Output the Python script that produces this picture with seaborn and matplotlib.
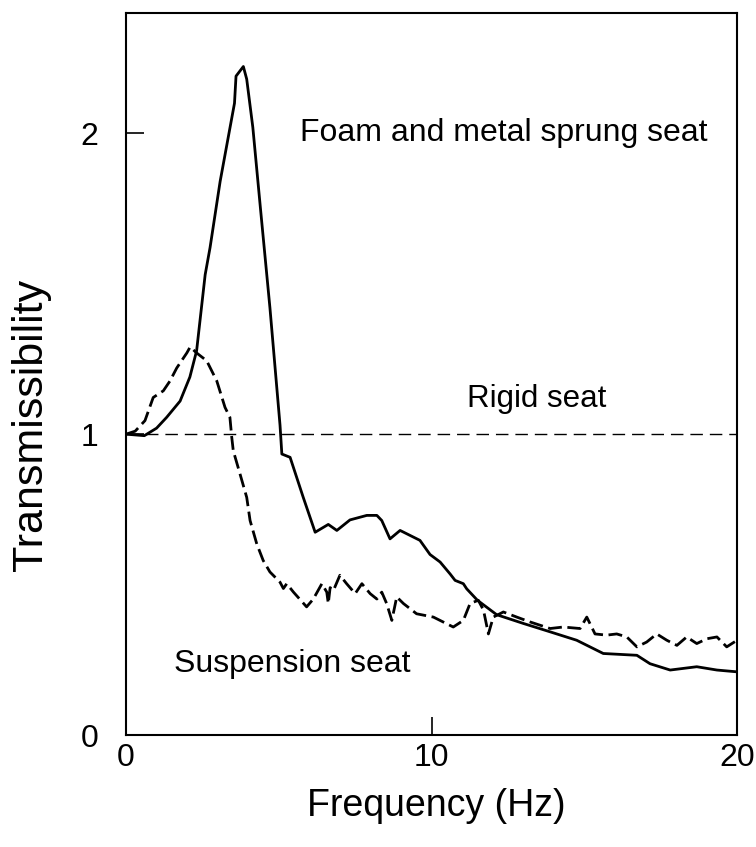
import numpy as np
import pandas as pd
import matplotlib
matplotlib.use("Agg")
import matplotlib.pyplot as plt
import seaborn as sns

# data
foam_freq = [0, 0.6, 1.0, 1.33, 1.77, 2.09, 2.31, 2.59, 2.75, 3.08, 3.55, 3.60, 3.84,
             3.95, 4.15, 4.40, 4.71, 5.04, 5.10, 5.37, 5.80, 6.19, 6.62, 6.90, 7.33,
             7.88, 8.21, 8.37, 8.64, 8.97, 9.62, 9.95, 10.28, 10.61, 10.77, 11.04,
             11.15, 11.5, 12.13, 13.0, 13.88, 14.75, 15.62, 16.72, 17.15, 17.81,
             18.68, 19.34, 20.0]
foam_trans = [1.0, 0.995, 1.02, 1.056, 1.11, 1.19, 1.277, 1.53, 1.62, 1.84, 2.10, 2.19,
              2.222, 2.18, 2.02, 1.75, 1.42, 1.03, 0.934, 0.923, 0.79, 0.674, 0.70,
              0.68, 0.715, 0.73, 0.73, 0.713, 0.652, 0.68, 0.647, 0.60, 0.575, 0.535,
              0.514, 0.503, 0.486, 0.448, 0.40, 0.371, 0.343, 0.315, 0.271, 0.265,
              0.237, 0.216, 0.227, 0.216, 0.21]

susp_freq = [0, 0.3, 0.62, 0.89, 1.22, 1.44, 1.66, 1.99, 2.1, 2.31, 2.64, 2.97, 3.24,
             3.40, 3.46, 3.51, 3.73, 3.95, 4.06, 4.28, 4.49, 4.71, 5.04, 5.15, 5.26,
             5.48, 5.91, 6.13, 6.41, 6.57, 6.62, 6.68, 6.79, 7.0, 7.22, 7.5, 7.72,
             7.99, 8.21, 8.37, 8.53, 8.70, 8.86, 9.08, 9.51, 10.06, 10.71, 11.04,
             11.26, 11.53, 11.70, 11.86, 12.02, 12.35, 12.79, 13.22, 13.55, 13.88,
             14.31, 14.86, 15.08, 15.35, 15.73, 16.06, 16.39, 16.72, 17.04, 17.37,
             17.70, 18.03, 18.35, 18.68, 19.01, 19.34, 19.66, 20.0]
susp_trans = [1.0, 1.01, 1.045, 1.122, 1.144, 1.177, 1.22, 1.27, 1.29, 1.27, 1.244,
              1.177, 1.089, 1.056, 0.99, 0.945, 0.868, 0.79, 0.713, 0.635, 0.58,
              0.542, 0.508, 0.487, 0.503, 0.475, 0.426, 0.452, 0.503, 0.475, 0.437,
              0.49, 0.481, 0.531, 0.503, 0.47, 0.503, 0.47, 0.452, 0.475, 0.437,
              0.381, 0.459, 0.437, 0.403, 0.392, 0.359, 0.381, 0.437, 0.448, 0.415,
              0.336, 0.392, 0.409, 0.392, 0.376, 0.365, 0.354, 0.359, 0.354, 0.392,
              0.336, 0.332, 0.336, 0.326, 0.293, 0.309, 0.336, 0.315, 0.298, 0.326,
              0.304, 0.32, 0.326, 0.293, 0.315]

rigid_freq = [0, 20]
rigid_trans = [1.0, 1.0]

foam = pd.DataFrame({"freq": foam_freq, "trans": foam_trans})
susp = pd.DataFrame({"freq": susp_freq, "trans": susp_trans})
rigid = pd.DataFrame({"freq": rigid_freq, "trans": rigid_trans})

sns.set_style("white")
plt.rcParams["font.family"] = ["Liberation Sans", "DejaVu Sans"]
plt.rcParams["text.color"] = "black"
plt.rcParams["axes.labelcolor"] = "black"
plt.rcParams["xtick.color"] = "black"
plt.rcParams["ytick.color"] = "black"

fig = plt.figure(figsize=(7.56, 8.47), dpi=100)
ax = fig.add_axes([0.1667, 0.1322, 0.8083, 0.8525])

sns.lineplot(data=rigid, x="freq", y="trans", ax=ax, color="black", lw=1.0,
             linestyle=(0, (9, 5)))
sns.lineplot(data=susp, x="freq", y="trans", ax=ax, color="black", lw=2.0,
             linestyle=(0, (5, 2)))
sns.lineplot(data=foam, x="freq", y="trans", ax=ax, color="black", lw=2.0)

ax.set_xlim(0, 20)
ax.set_ylim(0, 2.4)
ax.set_xticks([0, 10, 20])
ax.set_yticks([0, 1, 2])
ax.tick_params(direction="in", length=13, width=1.2, labelsize=23,
               bottom=True, left=True, top=False, right=False)
ax.tick_params(axis="x", pad=6)
ax.tick_params(axis="y", pad=20)
for s in ax.spines.values():
    s.set_color("black")
    s.set_linewidth(1.5)

ax.set_xlabel("Frequency (Hz)", fontsize=27, va="top")
ax.xaxis.set_label_coords(0.507, -0.074)
ax.set_ylabel("Transmissibility", fontsize=31, va="center")
ax.yaxis.set_label_coords(-0.155, 0.43)

ax.text(5.70, 1.973, "Foam and metal sprung seat", fontsize=23, va="baseline")
ax.text(11.16, 1.089, "Rigid seat", fontsize=22.5, va="baseline")
ax.text(1.57, 0.209, "Suspension seat", fontsize=23, va="baseline")

fig.savefig("out.png", dpi=100)
